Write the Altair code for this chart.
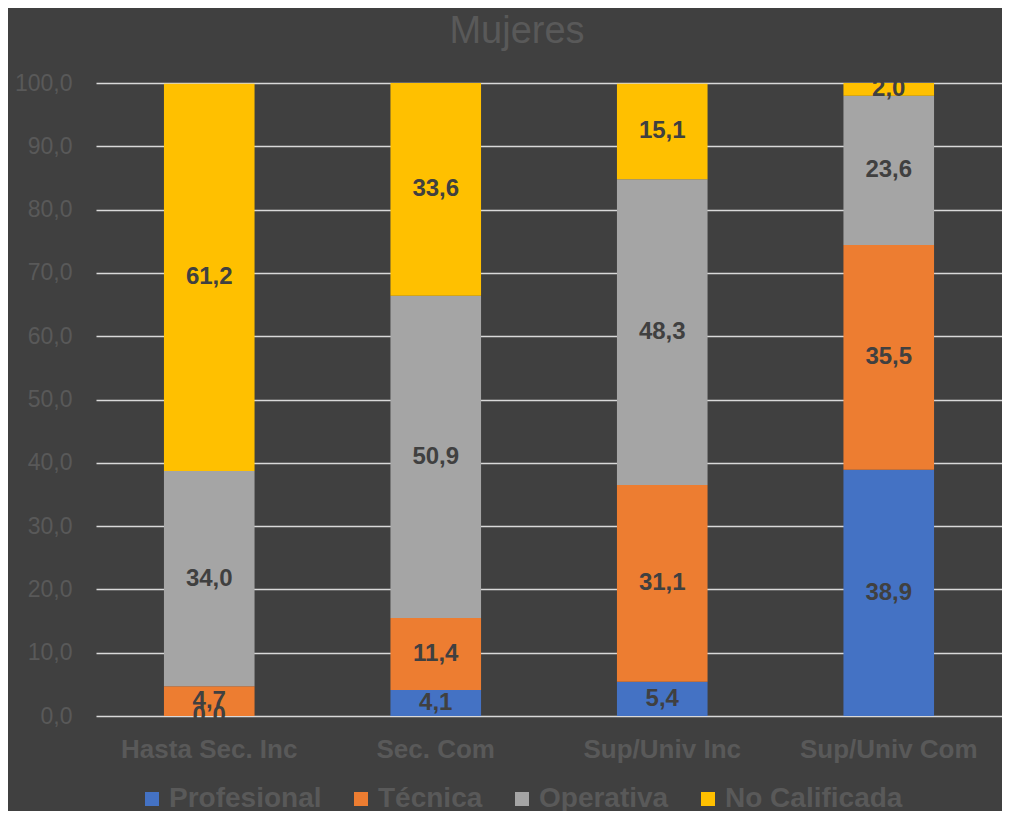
import altair as alt
import pandas as pd

categories = ["Hasta Sec. Inc", "Sec. Com", "Sup/Univ Inc", "Sup/Univ Com"]
series = ["Profesional", "Técnica", "Operativa", "No Calificada"]
colors = ["#4472C4", "#ED7D31", "#A5A5A5", "#FFC000"]

profesional = [0.0, 4.1, 5.4, 38.9]
tecnica = [4.7, 11.4, 31.1, 35.5]
operativa = [34.0, 50.9, 48.3, 23.6]
no_calificada = [61.2, 33.6, 15.1, 2.0]

values = [profesional, tecnica, operativa, no_calificada]
rows = []
for si, (s, vals) in enumerate(zip(series, values)):
    for c, v in zip(categories, vals):
        rows.append({"cat": c, "serie": s, "ord": si, "val": v,
                     "lbl": f"{v:.1f}".replace(".", ",")})
df = pd.DataFrame(rows)

txt = "#595959"
base = alt.Chart(df).transform_stack(
    stack="val", groupby=["cat"], as_=["y0", "y1"],
    sort=[alt.SortField("ord", order="ascending")]
).transform_calculate(mid="(datum.y0 + datum.y1) / 2")

x = alt.X("cat:N", sort=categories, title=None,
          scale=alt.Scale(paddingInner=0.6, paddingOuter=0.3),
          axis=alt.Axis(labelFont="Liberation Sans", labelFontSize=26,
                        labelFontWeight="bold", labelColor=txt, labelAngle=0,
                        ticks=False, domain=False, labelPadding=20))

bars = base.mark_bar().encode(
    x=x,
    y=alt.Y("y0:Q", title=None,
            scale=alt.Scale(domain=[0, 100], nice=False),
            axis=alt.Axis(values=list(range(0, 101, 10)),
                          labelExpr="replace(format(datum.value, '.1f'), '.', ',')",
                          labelFont="Liberation Sans", labelFontSize=23,
                          labelColor=txt, ticks=False, domain=False,
                          labelPadding=24, gridColor="#D9D9D9", gridWidth=1.5)),
    y2="y1:Q",
    color=alt.Color("serie:N", sort=series,
                    scale=alt.Scale(domain=series, range=colors),
                    legend=alt.Legend(title=None, orient="none", direction="horizontal",
                                      legendX=42, legendY=702,
                                      symbolType="square", symbolSize=196,
                                      symbolStrokeWidth=0,
                                      labelFont="Liberation Sans", labelFontSize=28,
                                      labelFontWeight="bold", labelColor=txt,
                                      labelLimit=400,
                                      labelOffset=3, columnPadding=25)),
)

labels = base.mark_text(font="Liberation Sans", fontSize=24, fontWeight="bold",
                        color="#404040").encode(
    x=alt.X("cat:N", sort=categories),
    y=alt.Y("mid:Q"),
    text="lbl:N",
)

chart = alt.layer(bars, labels).properties(
    width=906, height=633,
    autosize=alt.AutoSizeParams(type="none"),
    padding={"left": 88, "top": 75, "right": 0, "bottom": 95},
    background="#404040",
    title=alt.TitleParams("Mujeres", font="Liberation Sans", fontSize=38,
                          fontWeight="normal", color=txt, dx=-32, offset=21,
                          anchor="middle"),
).configure_view(stroke=None)

chart.save("out.html", embed_options={"renderer": "svg", "actions": False})
